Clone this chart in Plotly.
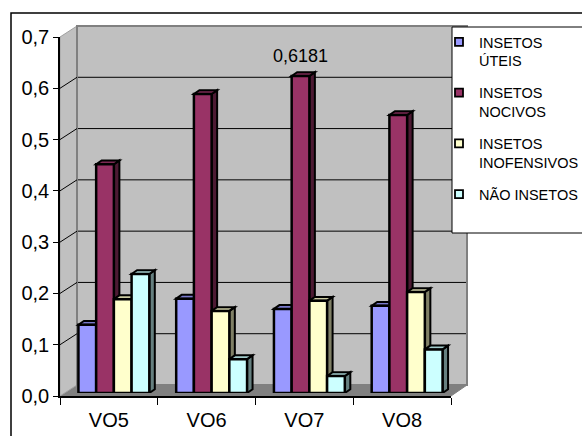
import plotly.graph_objects as go

# ---- data ----
categories = ["VO5", "VO6", "VO7", "VO8"]
uteis = [0.133, 0.184, 0.164, 0.170]
nocivos = [0.446, 0.583, 0.6181, 0.542]
inofensivos = [0.183, 0.160, 0.180, 0.197]
nao_insetos = [0.232, 0.066, 0.033, 0.085]
series_names = ["INSETOS<br>ÚTEIS", "INSETOS<br>NOCIVOS",
                "INSETOS<br>INOFENSIVOS", "NÃO INSETOS"]
y_ticks = [0.0, 0.1, 0.2, 0.3, 0.4, 0.5, 0.6, 0.7]
labelled = (1, 2)  # (series, category) that carries a value label

series = [uteis, nocivos, inofensivos, nao_insetos]
front_colors = ["#9999FF", "#993366", "#FFFFCC", "#CCFFFF"]
top_colors = ["#7A7ACC", "#7A2952", "#CCCCA3", "#A3CCCC"]
side_colors = ["#4D4D80", "#4D1A33", "#808066", "#668080"]

# ---- page geometry (pixels) ----
FIG_W, FIG_H = 582, 436
L, R, T, B = 60, 467, 26, 396          # plotting region
W, H = R - L, B - T
DEPTH_X, DEPTH_Y = 17, 11              # floor / wall depth
FRONT_W, FRONT_H = 391, 359            # front plane size
BAR_SHIFT_X, BAR_SHIFT_Y = 5, 3        # bars sit a little behind the front plane
BAR_DX, BAR_DY = 5.5, 3.8              # bar depth
Y_MAX = 0.7
BARGAP = 0.275


def px(x):
    return (x - L) / W


def py(y):
    return (B - y) / H


x_scale = FRONT_W / len(categories)    # px per category
y_scale = FRONT_H / Y_MAX              # px per unit
ddx = BAR_DX / x_scale
ddy = BAR_DY / y_scale
bar_w = (1 - BARGAP) / len(series)

fig = go.Figure()

# bars (front faces)
for k, vals in enumerate(series):
    fig.add_trace(go.Bar(
        x=list(range(len(categories))), y=vals,
        xaxis="x2", yaxis="y2",
        marker=dict(color=front_colors[k], line=dict(color="black", width=2.5)),
        showlegend=False, hoverinfo="skip",
    ))

# legend entries
for k, name in enumerate(series_names):
    fig.add_trace(go.Scatter(
        x=[None], y=[None], mode="markers", name=name, legendgroup=name,
        marker=dict(symbol="square", size=8, color=front_colors[k],
                    line=dict(color="black", width=1.8)),
    ))

shapes = []

# chart frame
shapes.append(dict(type="rect", xref="paper", yref="paper",
                   x0=px(11), x1=px(620), y0=py(13), y1=py(470),
                   line=dict(color="black", width=1.5), layer="below"))

# floor
shapes.append(dict(type="path", xref="paper", yref="paper", layer="below",
                   path=f"M{px(L)},{py(B)} L{px(L+DEPTH_X)},{py(B-DEPTH_Y)} "
                        f"L{px(R)},{py(B-DEPTH_Y)} L{px(L+FRONT_W)},{py(B)} Z",
                   fillcolor="#808080", line=dict(color="#808080", width=1)))
# side wall
shapes.append(dict(type="path", xref="paper", yref="paper", layer="below",
                   path=f"M{px(L)},{py(B-FRONT_H)} L{px(L+DEPTH_X)},{py(T)} "
                        f"L{px(L+DEPTH_X)},{py(B-DEPTH_Y)} L{px(L)},{py(B)} Z",
                   fillcolor="#C0C0C0", line=dict(color="#A0A0A0", width=1)))
# back wall
shapes.append(dict(type="rect", xref="paper", yref="paper", layer="below",
                   x0=px(L+DEPTH_X), x1=px(R), y0=py(B-DEPTH_Y), y1=py(T),
                   fillcolor="#C0C0C0", line=dict(color="#808080", width=2)))

# grid lines on the walls
for v in y_ticks[1:-1]:
    yf = B - v * y_scale
    yb = yf - DEPTH_Y
    shapes.append(dict(type="line", xref="paper", yref="paper", layer="below",
                       x0=px(L+DEPTH_X+1), x1=px(R-1), y0=py(yb), y1=py(yb),
                       line=dict(color="black", width=1)))
    shapes.append(dict(type="line", xref="paper", yref="paper", layer="below",
                       x0=px(L), x1=px(L+DEPTH_X), y0=py(yf), y1=py(yb),
                       line=dict(color="black", width=1)))

# bar tops and sides
for k, vals in enumerate(series):
    for i, v in enumerate(vals):
        xl = i + (k - len(series) / 2) * bar_w
        xr = xl + bar_w
        shapes.append(dict(
            type="path", xref="x2", yref="y2", layer="between",
            path=f"M{xr},0 L{xr+ddx},{ddy} L{xr+ddx},{v+ddy} L{xr},{v} Z",
            fillcolor=side_colors[k], line=dict(color="black", width=2)))
        shapes.append(dict(
            type="path", xref="x2", yref="y2", layer="between",
            path=f"M{xl},{v} L{xl+ddx},{v+ddy} L{xr+ddx},{v+ddy} L{xr},{v} Z",
            fillcolor=top_colors[k], line=dict(color="black", width=2)))

# legend box
shapes.append(dict(type="rect", xref="paper", yref="paper", layer="above",
                   x0=px(452), x1=px(640), y0=py(233), y1=py(27),
                   fillcolor="white", line=dict(color="black", width=1)))

# value label
ks, ic = labelled
vlab = series[ks][ic]
annotations = [dict(
    x=ic + (ks - len(series) / 2 + 0.5) * bar_w, y=vlab, xref="x2", yref="y2",
    text=f"{vlab:.4f}".replace(".", ","), showarrow=False,
    yanchor="bottom", yshift=8,
    font=dict(family="Liberation Sans, Arial", size=18, color="black"))]

font_main = dict(family="Liberation Sans, Arial", size=20, color="black")

fig.update_layout(
    width=FIG_W, height=FIG_H,
    margin=dict(l=L, r=FIG_W - R, t=T, b=FIG_H - B, pad=0, autoexpand=False),
    paper_bgcolor="white", plot_bgcolor="rgba(0,0,0,0)",
    separators=",.",
    barmode="group", bargap=BARGAP, bargroupgap=0,
    shapes=shapes, annotations=annotations,
    showlegend=True,
    legend=dict(x=px(439), y=py(26), xanchor="left", yanchor="top",
                bgcolor="rgba(0,0,0,0)", borderwidth=0,
                font=dict(family="Liberation Sans, Arial", size=14.5, color="black"),
                tracegroupgap=10, valign="top"),
    xaxis=dict(domain=[0, FRONT_W / W], range=[-0.5, len(categories) - 0.5],
               tickvals=list(range(len(categories))), ticktext=categories,
               ticks="", showline=True, linecolor="black", linewidth=1.5,
               showgrid=False, zeroline=False, tickfont=font_main,
               ticklabelstandoff=5, automargin=False,
               minor=dict(tickvals=[i - 0.5 for i in range(len(categories) + 1)],
                          ticks="outside", ticklen=7, tickcolor="black",
                          tickwidth=1, showgrid=False),
               anchor="y", fixedrange=True),
    yaxis=dict(domain=[0, FRONT_H / H], range=[0, Y_MAX], tickvals=y_ticks,
               tickformat=".1f", ticks="outside", ticklen=5, tickcolor="black",
               showline=True, linecolor="black", linewidth=1.5,
               showgrid=False, zeroline=False, tickfont=font_main,
               automargin=False, anchor="x", fixedrange=True),
    xaxis2=dict(domain=[BAR_SHIFT_X / W, (FRONT_W + BAR_SHIFT_X) / W],
                range=[-0.5, len(categories) - 0.5], visible=False,
                anchor="y2", fixedrange=True),
    yaxis2=dict(domain=[BAR_SHIFT_Y / H, (FRONT_H + BAR_SHIFT_Y) / H],
                range=[0, Y_MAX], visible=False, anchor="x2", fixedrange=True),
)

fig.write_html("out.html")
